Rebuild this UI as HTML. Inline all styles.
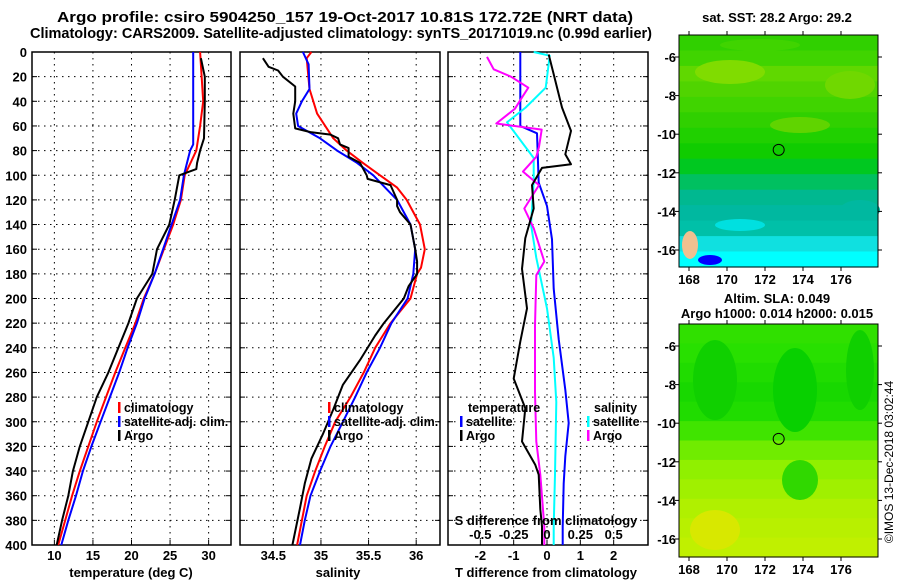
<!DOCTYPE html>
<html><head><meta charset="utf-8"><style>
html,body{margin:0;padding:0;background:#fff;}
svg{display:block;font-family:"Liberation Sans",sans-serif;font-weight:bold;}
</style></head><body>
<svg id="fig" width="900" height="580" viewBox="0 0 900 580">
<g id="bg"></g>
</svg>
<script>
// ---- data ----
const depthTicks=[0,20,40,60,80,100,120,140,160,180,200,220,240,260,280,300,320,340,360,380,400];
const tempTicks=[10,15,20,25,30];
const salTicks=[34.5,35,35.5,36];
const salTickLabels=["34.5","35","35.5","36"];
const dTTicks=[-2,-1,0,1,2];
const dSTicks=[-0.5,-0.25,0,0.25,0.5];
const dSTickLabels=["-0.5","-0.25","0","0.25","0.5"];

const tClimDepth=[0,40,60,80,100,120,140,160,180,200,220,240,260,280,300,320,340,360,380,400];
const tClimVal=[28.9,29.3,28.9,28.4,26.9,26.4,25.4,24.2,23.0,21.6,20.5,19.2,17.9,16.7,15.5,14.4,13.3,12.3,11.4,10.5];
const tSatDepth=[0,75,80,100,120,140,160,180,200,220,240,260,280,300,320,340,360,380,400];
const tSatVal=[28.0,28.0,27.6,26.8,26.3,25.2,24.1,23.0,21.7,20.7,19.5,18.4,17.2,16.0,14.8,13.7,12.8,11.8,10.9];
const tArgoDepth=[5,20,40,70,80,90,95,100,120,140,160,180,200,220,240,260,280,300,320,340,360,380,400];
const tArgoVal=[29.0,29.5,29.5,29.4,28.9,28.5,28.4,26.2,25.6,24.9,23.3,22.7,20.7,19.6,18.3,17.0,15.5,14.4,13.3,12.4,11.8,11.0,10.3];

const sClimDepth=[0,5,30,50,70,80,90,100,110,120,140,160,175,180,200,220,240,260,280,300,320,340,360,380,400];
const sClimVal=[34.90,34.85,34.88,34.96,35.13,35.27,35.44,35.62,35.80,35.90,36.04,36.09,36.05,36.01,35.94,35.73,35.57,35.45,35.31,35.15,35.04,34.94,34.85,34.80,34.75];
const sSatDepth=[0,10,30,40,50,60,70,80,90,100,120,140,160,180,200,220,240,260,280,300,320,340,360,380,400];
const sSatVal=[34.81,34.87,34.88,34.80,34.74,34.76,34.99,35.17,35.38,35.55,35.80,35.94,35.99,35.97,35.91,35.74,35.62,35.48,35.36,35.23,35.10,34.99,34.89,34.83,34.78];
const sArgoDepth=[5,12,15,20,28,40,50,62,65,67,70,75,78,85,90,100,103,108,120,125,130,140,160,170,180,190,200,220,230,250,270,290,310,330,350,370,400];
const sArgoVal=[34.39,34.45,34.55,34.60,34.73,34.73,34.71,34.73,34.89,35.10,35.18,35.20,35.29,35.29,35.41,35.48,35.49,35.73,35.80,35.80,35.83,35.94,35.99,36.01,36.01,35.92,35.87,35.66,35.57,35.41,35.23,35.13,35.02,34.90,34.83,34.78,34.70];

const dTSatDepth=[0,60,66,106,125,152,192,233,274,301,328,350,385,400];
const dTSatVal=[-0.8,-0.8,-0.3,-0.25,0.0,0.15,0.2,0.35,0.55,0.65,0.55,0.5,0.47,0.47];
const dTArgoDepth=[2,18,45,64,83,91,94,108,127,151,176,208,235,265,289,316,335,343,371,385,400];
const dTArgoVal=[0.05,0.2,0.45,0.72,0.55,0.72,-0.15,-0.45,-0.4,-0.65,-0.75,-0.6,-0.8,-1.0,-0.65,-0.75,-0.35,-0.25,-0.2,-0.15,-0.15];
const dSSatDepth=[0,3,29,45,57,86,105,140,167,208,248,284,343,385,400];
const dSSatVal=[-0.1,0.02,-0.01,-0.16,-0.3,-0.1,-0.1,-0.12,-0.08,0.0,0.05,0.07,0.06,0.05,0.05];
const dSArgoDepth=[4,14,20,29,39,46,58,63,77,85,97,108,127,143,170,181,222,276,316,343,385,400];
const dSArgoVal=[-0.45,-0.4,-0.27,-0.14,-0.2,-0.24,-0.38,-0.04,-0.06,-0.08,-0.18,-0.06,-0.17,-0.1,-0.02,-0.08,-0.09,-0.09,-0.08,-0.05,-0.02,-0.02];

const latTicks=[-6,-8,-10,-12,-14,-16];
const lonTicks=[168,170,172,174,176];
const argoLon=172.72, argoLat=-10.81;

// ---- helpers ----
const NS="http://www.w3.org/2000/svg";
const svg=document.getElementById('fig');
function mk(tag,attrs,parent){const e=document.createElementNS(NS,tag);for(const k in attrs)e.setAttribute(k,attrs[k]);(parent||svg).appendChild(e);return e;}
function txt(x,y,s,anchor,size,parent){const t=mk('text',{x:x,y:y,'text-anchor':anchor||'middle','font-size':size||13,fill:'#000'},parent);t.textContent=s;return t;}

const yTop=52,yBot=545;
const yD=d=>yTop+(d/400)*(yBot-yTop);
const panels={
 temp:{x0:32,x1:231,v0:7.1,v1:32.9},
 sal:{x0:240,x1:440,v0:34.15,v1:36.25},
 diff:{x0:448,x1:648,v0:-2.97,v1:3.03}
};
const xS=(p,v)=>p.x0+(v-p.v0)/(p.v1-p.v0)*(p.x1-p.x0);
const xDS=v=>xS(panels.diff,v*4);

function frame(p,name){
 const g=mk('g',{});
 
 
 mk('rect',{x:p.x0,y:yTop,width:p.x1-p.x0,height:yBot-yTop,fill:'#fff',stroke:'#000','stroke-width':1.5},g);
 depthTicks.forEach(d=>{
  if(d>0&&d<400) mk('line',{x1:p.x0,x2:p.x1,y1:yD(d),y2:yD(d),stroke:'#000','stroke-width':1,'stroke-dasharray':'1.5,4.5'},g);
  mk('line',{x1:p.x0,x2:p.x0+5,y1:yD(d),y2:yD(d),stroke:'#000'},g);
  mk('line',{x1:p.x1-5,x2:p.x1,y1:yD(d),y2:yD(d),stroke:'#000'},g);
 });
 return g;
}
function vgrid(p,vals,g,fx){vals.forEach(v=>{const x=fx?fx(v):xS(p,v);mk('line',{x1:x,x2:x,y1:yTop,y2:yBot,stroke:'#000','stroke-width':1,'stroke-dasharray':'1.5,4.5'},g);mk('line',{x1:x,x2:x,y1:yBot-5,y2:yBot,stroke:'#000'},g);});}
function line(depths,vals,fx,color,name){
 const pts=depths.map((d,i)=>fx(vals[i]).toFixed(1)+','+yD(d).toFixed(1)).join(' ');
 const l=mk('polyline',{points:pts,fill:'none',stroke:color,'stroke-width':2,'stroke-linejoin':'round'});
 
 
 return l;
}

// titles
let t1=txt(57,22,'Argo profile: csiro 5904250_157 19-Oct-2017 10.81S 172.72E (NRT data)','start',15);
t1.setAttribute('textLength','576');
t1.setAttribute('lengthAdjust','spacingAndGlyphs');


let t2=txt(30,38,'Climatology: CARS2009. Satellite-adjusted climatology: synTS_20171019.nc (0.99d earlier)','start',15);
t2.setAttribute('textLength','622');
t2.setAttribute('lengthAdjust','spacingAndGlyphs');



// panel 1
const gT=frame(panels.temp,'temperature-panel');
vgrid(panels.temp,tempTicks,gT);
depthTicks.forEach(d=>{const t=txt(27,yD(d)+5,String(d),'end',13);});
tempTicks.forEach(v=>{const t=txt(xS(panels.temp,v),560,String(v),'middle',13);});
let xl1=txt(131,577,'temperature (deg C)','middle',13);


const tp=panels.temp;
line(tClimDepth,tClimVal,v=>xS(tp,v),'#ff0000','temp-climatology-line');
line(tSatDepth,tSatVal,v=>xS(tp,v),'#0000ff','temp-satellite-line');
line(tArgoDepth,tArgoVal,v=>xS(tp,v),'#000000','temp-argo-line');

// panel 2
const gS=frame(panels.sal,'salinity-panel');
vgrid(panels.sal,salTicks,gS);
salTicks.forEach((v,i)=>{const t=txt(xS(panels.sal,v),560,salTickLabels[i],'middle',13);});
let xl2=txt(338,577,'salinity','middle',13);


const sp=panels.sal;
line(sClimDepth,sClimVal,v=>xS(sp,v),'#ff0000','sal-climatology-line');
line(sSatDepth,sSatVal,v=>xS(sp,v),'#0000ff','sal-satellite-line');
line(sArgoDepth,sArgoVal,v=>xS(sp,v),'#000000','sal-argo-line');

// panel 3
const gD=frame(panels.diff,'difference-panel');
vgrid(panels.diff,dTTicks,gD);
dTTicks.forEach(v=>{const t=txt(xS(panels.diff,v),560,String(v),'middle',13);});
let xl3=txt(546,577,'T difference from climatology','middle',13);


const dp=panels.diff;
line(dTSatDepth,dTSatVal,v=>xS(dp,v),'#0000ff','t-diff-satellite-line');
line(dSSatDepth,dSSatVal,xDS,'#00ffff','s-diff-satellite-line');
line(dSArgoDepth,dSArgoVal,xDS,'#ff00ff','s-diff-argo-line');
line(dTArgoDepth,dTArgoVal,v=>xS(dp,v),'#000000','t-diff-argo-line');
let sl=txt(546,525,'S difference from climatology','middle',13);


dSTicks.forEach((v,i)=>{const t=txt(xDS(v),539,dSTickLabels[i],'middle',13);});

// legends
function legItem(x,y,color,label,name){
 const g=mk('g',{});
 
 
 mk('rect',{x:x,y:y-10,width:2.5,height:11,fill:color},g);
 txt(x+6,y,label,'start',12.5,g);
}
legItem(118,412,'#ff0000','climatology','legend-climatology');
legItem(118,426,'#0000ff','satellite-adj. clim.','legend-satellite-adj');
legItem(118,440,'#000000','Argo','legend-argo');
legItem(328,412,'#ff0000','climatology','legend-climatology-sal');
legItem(328,426,'#0000ff','satellite-adj. clim.','legend-satellite-adj-sal');
legItem(328,440,'#000000','Argo','legend-argo-sal');
let lt=txt(468,412,'temperature','start',12.5);
legItem(460,426,'#0000ff','satellite','legend-t-satellite');
legItem(460,440,'#000000','Argo','legend-t-argo');
let ls=txt(594,412,'salinity','start',12.5);
legItem(587,426,'#00ffff','satellite','legend-s-satellite');
legItem(587,440,'#ff00ff','Argo','legend-s-argo');

// maps
function mapPanel(x0,y0,y1,name,rowColors,blobs){
 const x1=878;
 const g=mk('g',{});
 
 
 const n=rowColors.length,h=(y1-y0)/n;
 rowColors.forEach((c,i)=>mk('rect',{x:x0,y:(y0+i*h).toFixed(1),width:x1-x0,height:(h+0.6).toFixed(1),fill:c},g));
 blobs.forEach(b=>mk('ellipse',{cx:b[0],cy:b[1],rx:b[2],ry:b[3],fill:b[4]},g));
 mk('rect',{x:x0,y:y0,width:x1-x0,height:y1-y0,fill:'none',stroke:'#000','stroke-width':1},g);
 const lonX=v=>689+(v-168)*19;
 const latY=v=>y0+22+(-6-v)*19.3;
 lonTicks.forEach(v=>{mk('line',{x1:lonX(v),x2:lonX(v),y1:y0-4,y2:y0,stroke:'#000'},g);mk('line',{x1:lonX(v),x2:lonX(v),y1:y1,y2:y1+4,stroke:'#000'},g);txt(lonX(v),y1+17,String(v),'middle',13,g);});
 latTicks.forEach(v=>{mk('line',{x1:x0-4,x2:x0,y1:latY(v),y2:latY(v),stroke:'#000'},g);mk('line',{x1:x1,x2:x1+4,y1:latY(v),y2:latY(v),stroke:'#000'},g);txt(x0-3,latY(v)+5,String(v),'end',13,g);});
 mk('circle',{cx:lonX(argoLon),cy:latY(argoLat),r:5.5,fill:'none',stroke:'#000','stroke-width':1},g);
 return g;
}
mapPanel(679,35,267,'sst-map',
 ['#30d000','#40d400','#60d800','#50d400','#40d400','#30d000','#20d000','#10cc00','#00c820','#00c060','#00b890','#00b8a0','#00c0a8','#10e0e0','#00ffff'],
 [[730,72,35,12,'#80dc00'],[850,85,25,14,'#70d800'],[800,125,30,8,'#60d400'],[760,45,40,6,'#40d400'],[860,210,20,10,'#00b8a0'],[740,225,25,6,'#00e0e0'],[710,260,12,5,'#0000ff'],[690,245,8,14,'#f0c090']]);
mapPanel(679,324,557,'sla-map',
 ['#30e000','#28e000','#20dc00','#18d800','#20dc00','#40e400','#70ec00','#90f000','#a0f000','#b0f000','#b8f000','#c0f000'],
 [[715,380,22,40,'#10d000'],[795,390,22,42,'#08d000'],[860,370,14,40,'#10d000'],[715,530,25,20,'#d8e800'],[800,480,18,20,'#30d800']]);
let mt1=txt(777,22,'sat. SST: 28.2 Argo: 29.2','middle',13);
let mt2=txt(777,303,'Altim. SLA: 0.049','middle',13);
let mt3=txt(777,318,'Argo h1000: 0.014 h2000: 0.015','middle',13);
let cr=txt(0,0,'©IMOS 13-Dec-2018 03:02:44','middle',12);
cr.setAttribute('transform','translate(893,462) rotate(-90)');
cr.setAttribute('font-weight','normal');


</script>
</body></html>
